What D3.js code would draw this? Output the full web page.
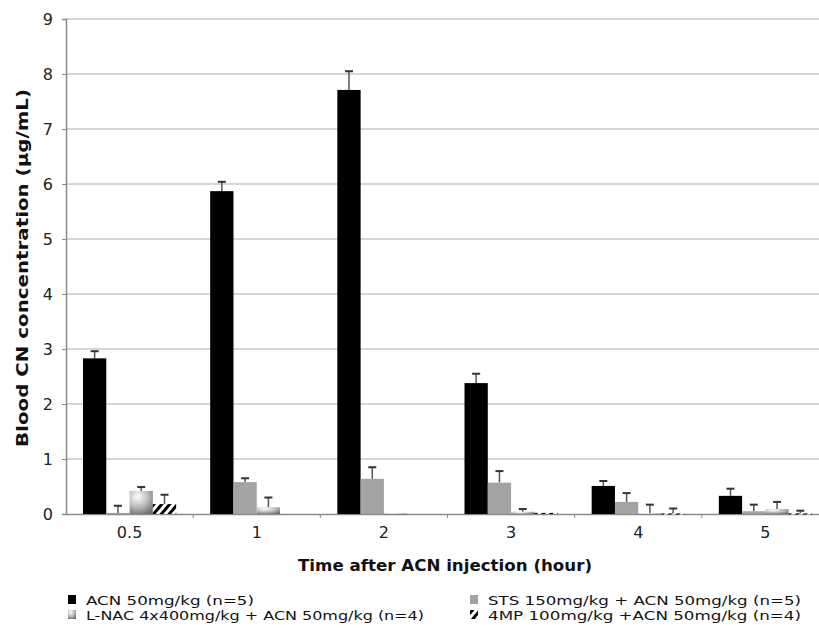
<!DOCTYPE html>
<html>
<head>
<meta charset="utf-8">
<script src="https://cdn.jsdelivr.net/npm/d3@7"></script>
<style>
  html, body { margin: 0; padding: 0; background: #fff; }
  svg { display: block; }
  text { font-family: "DejaVu Sans", Verdana, sans-serif; }
</style>
</head>
<body>
<svg id="chart" width="819" height="628"></svg>
<script>
// Time points (hours after ACN injection)
const categories = ["0.5", "1", "2", "3", "4", "5"];

// Treatment groups, in bar order within each time point
const seriesNames = [
  "ACN 50mg/kg (n=5)",
  "STS 150mg/kg + ACN 50mg/kg (n=5)",
  "L-NAC 4x400mg/kg + ACN 50mg/kg (n=4)",
  "4MP 100mg/kg +ACN 50mg/kg (n=4)"
];

// Mean blood CN concentration (µg/mL)
const acnMean  = [2.83, 5.87, 7.71, 2.38, 0.51, 0.33];
const stsMean  = [0.02, 0.58, 0.64, 0.57, 0.22, 0.05];
const lnacMean = [0.42, 0.12, 0.01, 0.04, 0.01, 0.09];
const mpMean   = [0.18, 0.00, 0.00, 0.02, 0.01, 0.01];

// Upper error (SD) for each mean
const acnErr  = [0.13, 0.17, 0.34, 0.17, 0.09, 0.13];
const stsErr  = [0.13, 0.07, 0.21, 0.21, 0.16, 0.12];
const lnacErr = [0.07, 0.18, 0.00, 0.05, 0.16, 0.13];
const mpErr   = [0.17, 0.00, 0.00, 0.00, 0.09, 0.05];

const yTicks = [0, 1, 2, 3, 4, 5, 6, 7, 8, 9];

const means = [acnMean, stsMean, lnacMean, mpMean];
const errs  = [acnErr, stsErr, lnacErr, mpErr];

const svg = d3.select("#chart");
const defs = svg.append("defs");

// Shaded fill for the L-NAC group
const grad = defs.append("radialGradient")
  .attr("id", "lnacFill")
  .attr("cx", "35%").attr("cy", "25%").attr("r", "85%");
grad.append("stop").attr("offset", "0%").attr("stop-color", "#ffffff");
grad.append("stop").attr("offset", "55%").attr("stop-color", "#b8b8b8");
grad.append("stop").attr("offset", "100%").attr("stop-color", "#6e6e6e");

// Diagonal hatching for the 4MP group
const hatch = defs.append("pattern")
  .attr("id", "mpHatch")
  .attr("patternUnits", "userSpaceOnUse")
  .attr("width", 6).attr("height", 6)
  .attr("patternTransform", "rotate(40)");
hatch.append("rect").attr("width", 6).attr("height", 6).attr("fill", "#fff");
hatch.append("rect").attr("x", 0).attr("width", 3).attr("height", 6).attr("fill", "#000");

const fills = ["#000000", "#a3a3a3", "url(#lnacFill)", "url(#mpHatch)"];

const plot = { left: 66, right: 829, top: 19, bottom: 514 };

const x0 = d3.scaleBand()
  .domain(categories)
  .range([plot.left, plot.right])
  .paddingInner(0).paddingOuter(0);

const x1 = d3.scaleBand()
  .domain(d3.range(seriesNames.length))
  .range([0, x0.bandwidth()])
  .paddingInner(0).paddingOuter(0.73);

const y = d3.scaleLinear().domain([0, 9]).range([plot.bottom, plot.top]);

// Horizontal gridlines
svg.append("g")
  .selectAll("line")
  .data(yTicks.filter(d => d > 0))
  .join("line")
  .attr("x1", plot.left).attr("x2", plot.right)
  .attr("y1", d => y(d)).attr("y2", d => y(d))
  .attr("stroke", "#c8c8c8").attr("stroke-width", 1.5);

// Y axis
const yAxis = svg.append("g")
  .attr("transform", `translate(${plot.left},0)`)
  .call(d3.axisLeft(y).tickValues(yTicks).tickSize(4).tickPadding(9).tickFormat(d3.format("d")));
yAxis.select(".domain").attr("stroke", "#8a8a8a").attr("stroke-width", 1.5);
yAxis.selectAll(".tick line").attr("stroke", "#8a8a8a");
yAxis.selectAll(".tick text").attr("font-size", 16).attr("fill", "#222")
  .attr("font-family", "'DejaVu Sans', Verdana, sans-serif");

// X axis
const xAxis = svg.append("g")
  .attr("transform", `translate(0,${plot.bottom})`)
  .call(d3.axisBottom(x0).tickSize(0).tickPadding(13));
xAxis.select(".domain").attr("stroke", "#8a8a8a").attr("stroke-width", 1.5);
xAxis.selectAll(".tick text").attr("font-size", 16).attr("fill", "#222")
  .attr("font-family", "'DejaVu Sans', Verdana, sans-serif");
// small ticks at the category boundaries
svg.append("g")
  .selectAll("line")
  .data(categories.slice(1))
  .join("line")
  .attr("x1", d => x0(d)).attr("x2", d => x0(d))
  .attr("y1", plot.bottom).attr("y2", plot.bottom + 4)
  .attr("stroke", "#8a8a8a");

// Bars
const groups = svg.append("g")
  .selectAll("g")
  .data(categories)
  .join("g")
  .attr("transform", d => `translate(${x0(d)},0)`);

const barData = (c, ci) => means.map((m, si) => ({ si, v: m[ci], e: errs[si][ci] }));

groups.each(function (c, ci) {
  const g = d3.select(this);
  const data = barData(c, ci);

  // error bars (upper only)
  const eb = g.selectAll("g.err")
    .data(data.filter(d => d.e > 0))
    .join("g").attr("class", "err");
  eb.append("line")
    .attr("x1", d => x1(d.si) + x1.bandwidth() / 2)
    .attr("x2", d => x1(d.si) + x1.bandwidth() / 2)
    .attr("y1", d => y(d.v)).attr("y2", d => y(d.v + d.e))
    .attr("stroke", "#555").attr("stroke-width", 1.5);
  eb.append("line")
    .attr("x1", d => x1(d.si) + x1.bandwidth() / 2 - 4)
    .attr("x2", d => x1(d.si) + x1.bandwidth() / 2 + 4)
    .attr("y1", d => y(d.v + d.e)).attr("y2", d => y(d.v + d.e))
    .attr("stroke", "#333").attr("stroke-width", 2);

  g.selectAll("rect.bar")
    .data(data.filter(d => d.v > 0))
    .join("rect").attr("class", "bar")
    .attr("x", d => x1(d.si))
    .attr("width", x1.bandwidth())
    .attr("y", d => y(d.v))
    .attr("height", d => Math.max(1, y(0) - y(d.v)))
    .attr("fill", d => fills[d.si]);
});

// Axis titles
svg.append("text")
  .attr("transform", `translate(28,268) rotate(-90)`)
  .attr("text-anchor", "middle")
  .attr("font-size", 16).attr("font-weight", "bold").attr("fill", "#111")
  .attr("textLength", 358).attr("lengthAdjust", "spacingAndGlyphs")
  .text("Blood CN concentration (\u03bcg/mL)");

svg.append("text")
  .attr("x", 445).attr("y", 571)
  .attr("text-anchor", "middle")
  .attr("font-size", 16).attr("font-weight", "bold").attr("fill", "#111")
  .attr("textLength", 294).attr("lengthAdjust", "spacingAndGlyphs")
  .text("Time after ACN injection (hour)");

// Legend: two columns, two rows
const legendPos = [
  { x: 68, y: 605 }, { x: 470, y: 605 },
  { x: 68, y: 620 }, { x: 470, y: 620 }
];
const legendWidths = [168, 313, 338, 313];
const legend = svg.append("g")
  .selectAll("g")
  .data(seriesNames)
  .join("g")
  .attr("transform", (d, i) => `translate(${legendPos[i].x},${legendPos[i].y})`);
legend.append("rect")
  .attr("x", 0).attr("y", -10).attr("width", 8).attr("height", 9)
  .attr("fill", (d, i) => fills[i]);
legend.append("text")
  .attr("x", 18).attr("y", 0)
  .attr("font-size", 13).attr("fill", "#111")
  .attr("textLength", (d, i) => legendWidths[i]).attr("lengthAdjust", "spacingAndGlyphs")
  .text(d => d);
</script>
</body>
</html>
